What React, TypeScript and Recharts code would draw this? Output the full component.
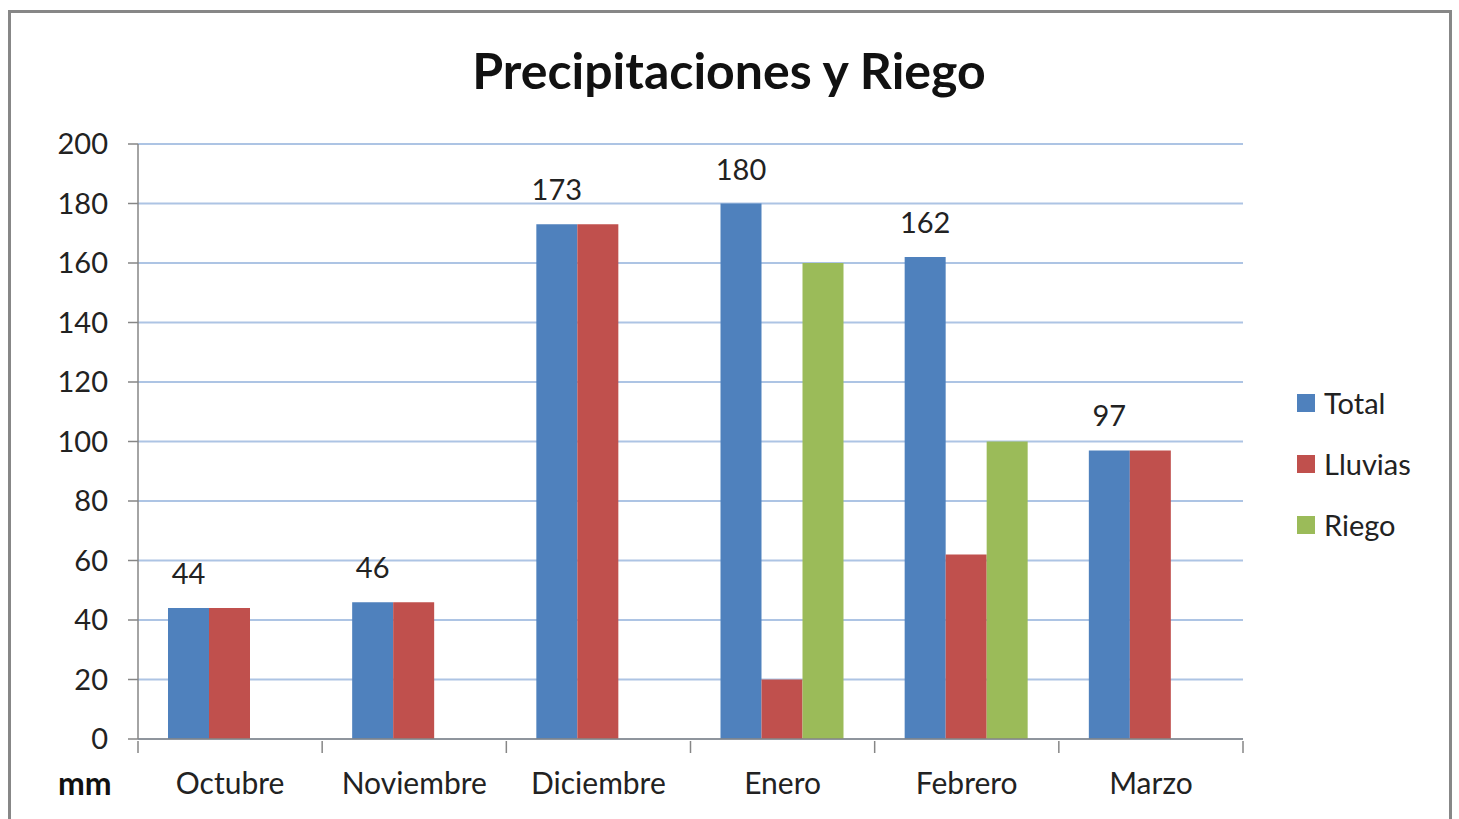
import { BarChart, Bar, XAxis, YAxis, CartesianGrid, LabelList } from "recharts";

const months = ["Octubre", "Noviembre", "Diciembre", "Enero", "Febrero", "Marzo"];
const total = [44, 46, 173, 180, 162, 97];
const lluvias = [44, 46, 173, 20, 62, 97];
const riego = [null, null, null, 160, 100, null];
const yTicks = [0, 20, 40, 60, 80, 100, 120, 140, 160, 180, 200];

const data = months.map((m, i) => ({
  month: m,
  Total: total[i],
  Lluvias: lluvias[i],
  Riego: riego[i],
}));

const colors = { Total: "#4F81BD", Lluvias: "#C0504D", Riego: "#9BBB59" };
const font = "Lato, 'Open Sans', sans-serif";
const W = 1459;
const H = 819;
const plotLeft = 138;
const plotRight = 1243;
const plotBottom = 739;
const band = (plotRight - plotLeft) / months.length;

const MonthTick = (props: any) => {
  const { x, y, payload, index } = props;
  return (
    <g>
      <line x1={x - band / 2} x2={x - band / 2} y1={y - 6} y2={y + 6} stroke="#868686" strokeWidth={1.5} />
      {index === months.length - 1 && (
        <line x1={x + band / 2} x2={x + band / 2} y1={y - 6} y2={y + 6} stroke="#868686" strokeWidth={1.5} />
      )}
      <text x={x} y={y + 47} textAnchor="middle" fontSize={30} fill="#222" fontFamily={font}>
        {payload.value}
      </text>
    </g>
  );
};

const LegendBox = () => (
  <div style={{ fontFamily: font, fontSize: 29, color: "#222" }}>
    {(["Total", "Lluvias", "Riego"] as const).map((k) => (
      <div key={k} style={{ display: "flex", alignItems: "center", height: 61 }}>
        <span style={{ width: 18, height: 18, background: colors[k], marginRight: 9, display: "inline-block" }} />
        <span>{k}</span>
      </div>
    ))}
  </div>
);

export default function App() {
  return (
    <div style={{ position: "absolute", left: 0, top: 0, width: W, height: H, overflow: "hidden", background: "#fff" }}>
      <div
        style={{
          position: "absolute",
          left: 8,
          top: 10,
          width: 1438,
          height: 840,
          border: "3px solid #878787",
        }}
      />
      <div
        style={{
          position: "absolute",
          left: 0,
          width: W - 1,
          top: 40,
          textAlign: "center",
          fontFamily: font,
          fontWeight: 700,
          fontSize: 50,
          color: "#111",
        }}
      >
        Precipitaciones y Riego
      </div>
      <div
        style={{
          position: "absolute",
          left: 58,
          top: 763,
          fontFamily: font,
          fontWeight: 700,
          fontSize: 32,
          color: "#111",
        }}
      >
        mm
      </div>
      <div style={{ position: "absolute", left: 1297, top: 372 }}>
        <LegendBox />
      </div>
      <div style={{ position: "absolute", left: 0, top: 0 }}>
        <BarChart
          width={W}
          height={H}
          data={data}
          margin={{ top: 144, right: W - plotRight, bottom: 0, left: 0 }}
          barCategoryGap={30}
          barGap={0}
        >
          <CartesianGrid vertical={false} stroke="#ADC4E4" strokeWidth={2} />
          <XAxis
            dataKey="month"
            axisLine={{ stroke: "#868686", strokeWidth: 1.5 }}
            tickLine={false}
            tick={<MonthTick />}
            height={H - plotBottom}
            interval={0}
          />
          <YAxis
            width={plotLeft}
            domain={[0, 200]}
            ticks={yTicks}
            axisLine={{ stroke: "#868686", strokeWidth: 1.5 }}
            tickLine={{ stroke: "#868686", strokeWidth: 1.5 }}
            tickSize={10}
            tickMargin={20}
            tick={{ fontSize: 29, fill: "#222", fontFamily: font }}
          />
          <Bar dataKey="Total" fill={colors.Total} isAnimationActive={false}>
            <LabelList dataKey="Total" position="top" offset={24} fontSize={29} fill="#222" fontFamily={font} />
          </Bar>
          <Bar dataKey="Lluvias" fill={colors.Lluvias} isAnimationActive={false} />
          <Bar dataKey="Riego" fill={colors.Riego} isAnimationActive={false} />
        </BarChart>
      </div>
    </div>
  );
}
